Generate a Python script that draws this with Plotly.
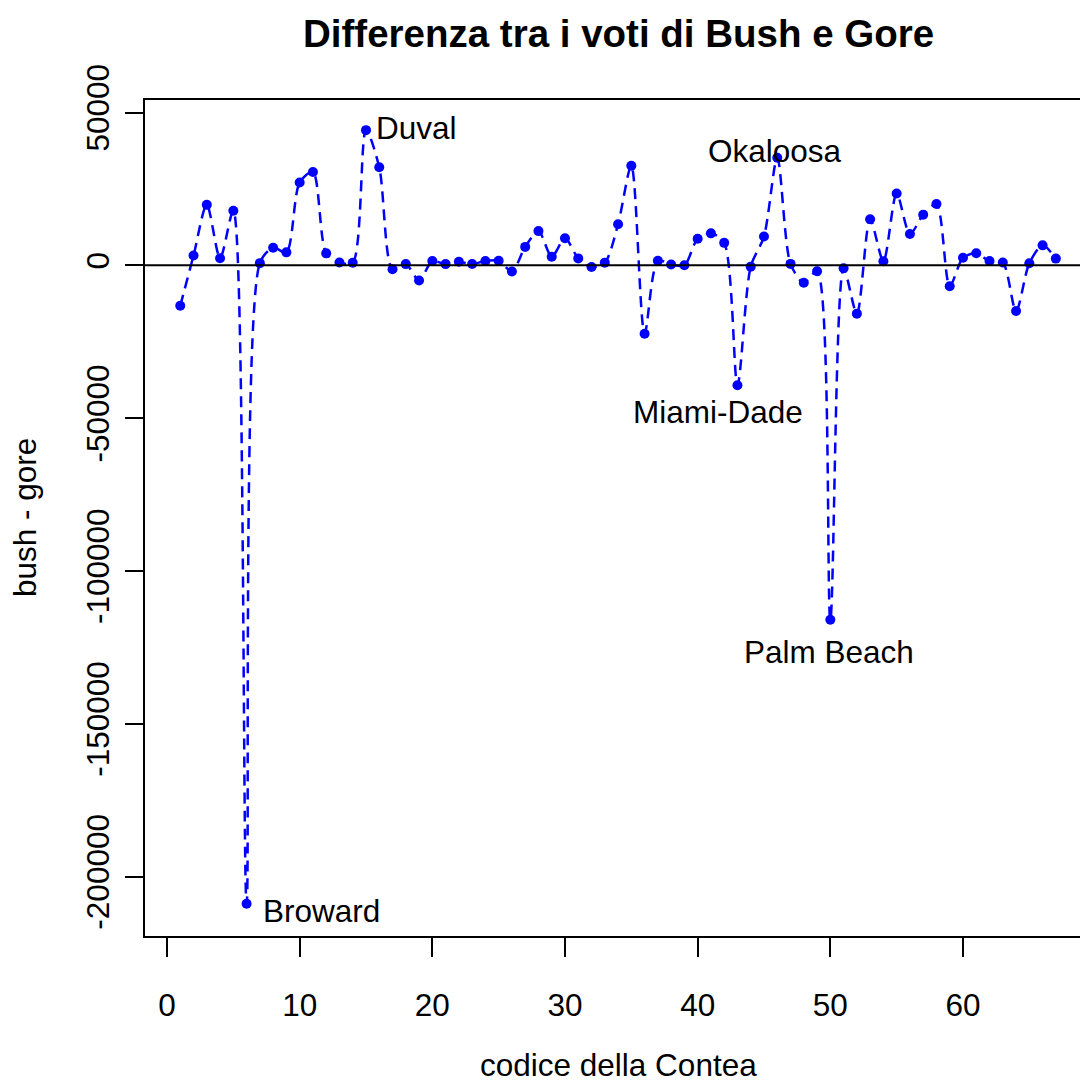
import plotly.graph_objects as go

# Florida 2000: Bush minus Gore votes per county (county code 1..67, alphabetical)
county_code = list(range(1, 68))
bush_minus_gore = [
    -13241, 3218, 19787, 2339, 17867, -208900, 718, 5781, 4242, 27104,
    30529, 3917, 936, 871, 44234, 32074, -1284, 408, -4968, 1390,
    399, 1153, 424, 1426, 1507, -1998, 6039, 11203, 2834, 8867,
    2270, -563, 881, 13439, 32581, -22371, 1465, 300, 23, 8722,
    10467, 7351, -39234, -424, 9453, 35197, 468, -5705, -1950, -115994,
    -969, -15808, 15103, 1350, 23521, 10231, 16563, 20055, -6855, 2490,
    3931, 1407, 925, -14945, 674, 6540, 2196,
]

# Highlighted counties: (code, name, anchor, x shift px, y shift px)
labelled = [
    (6, "Broward", "left", 14, -7),
    (15, "Duval", "left", 8, 2),
    (46, "Okaloosa", "center", -2, 7),
    (43, "Miami-Dade", "center", -19, -27),
    (50, "Palm Beach", "center", -1, -32),
]

x_ticks = [0, 10, 20, 30, 40, 50, 60]
y_ticks = [-200000, -150000, -100000, -50000, 0, 50000]

FONT = "Liberation Sans, Arial, Helvetica, sans-serif"
BLUE = "#0000FF"
TXT = 31.5

fig = go.Figure()
fig.add_trace(go.Scatter(
    x=county_code,
    y=bush_minus_gore,
    mode="lines+markers",
    line=dict(color=BLUE, width=2.5, dash="11px,7px", shape="spline", smoothing=0.8),
    marker=dict(color=BLUE, size=10, symbol="circle"),
    showlegend=False,
    hoverinfo="x+y",
))

# horizontal reference at zero
fig.add_shape(type="line", xref="paper", yref="y", x0=0, x1=1, y0=0, y1=0,
              line=dict(color="black", width=2))

for code, name, anchor, dx, dy in labelled:
    fig.add_annotation(
        x=code, y=bush_minus_gore[code - 1], xref="x", yref="y",
        text=name, showarrow=False, xanchor=anchor, yanchor="middle",
        xshift=dx, yshift=dy, font=dict(family=FONT, size=TXT, color="black"),
    )

# titles placed as annotations so they centre on the full plot region
fig.add_annotation(x=0.506, y=1.080, xref="paper", yref="paper",
                   text="<b>Differenza tra i voti di Bush e Gore</b>", showarrow=False,
                   xanchor="center", yanchor="middle",
                   font=dict(family=FONT, size=38.5, color="black"))
fig.add_annotation(x=0.506, y=-0.1543, xref="paper", yref="paper",
                   text="codice della Contea", showarrow=False,
                   xanchor="center", yanchor="middle",
                   font=dict(family=FONT, size=TXT, color="black"))
fig.add_annotation(x=-0.1283, y=0.5, xref="paper", yref="paper",
                   text="bush - gore", showarrow=False, textangle=-90,
                   xanchor="center", yanchor="middle",
                   font=dict(family=FONT, size=TXT, color="black"))

fig.update_layout(
    width=1080, height=1082,
    margin=dict(l=145, r=0, t=100, b=146, pad=0),
    paper_bgcolor="white", plot_bgcolor="white",
    font=dict(family=FONT, size=TXT, color="black"),
    xaxis=dict(
        range=[-1.658, 68.82], tickmode="array", tickvals=x_ticks,
        ticktext=[str(v) for v in x_ticks],
        ticks="outside", ticklen=19, tickwidth=2, tickcolor="black",
        showline=True, linewidth=2, linecolor="black", mirror=True,
        showgrid=False, zeroline=False, ticklabelstandoff=21,
        tickfont=dict(family=FONT, size=TXT, color="black"),
    ),
    yaxis=dict(
        range=[-219450, 54100], tickmode="array", tickvals=y_ticks,
        ticktext=[str(v) for v in y_ticks], tickangle=-90,
        ticks="outside", ticklen=18, tickwidth=2, tickcolor="black",
        showline=True, linewidth=2, linecolor="black", mirror=False,
        showgrid=False, zeroline=False, ticklabelstandoff=3,
        tickfont=dict(family=FONT, size=TXT, color="black"),
    ),
)

fig.write_html("out.html")
